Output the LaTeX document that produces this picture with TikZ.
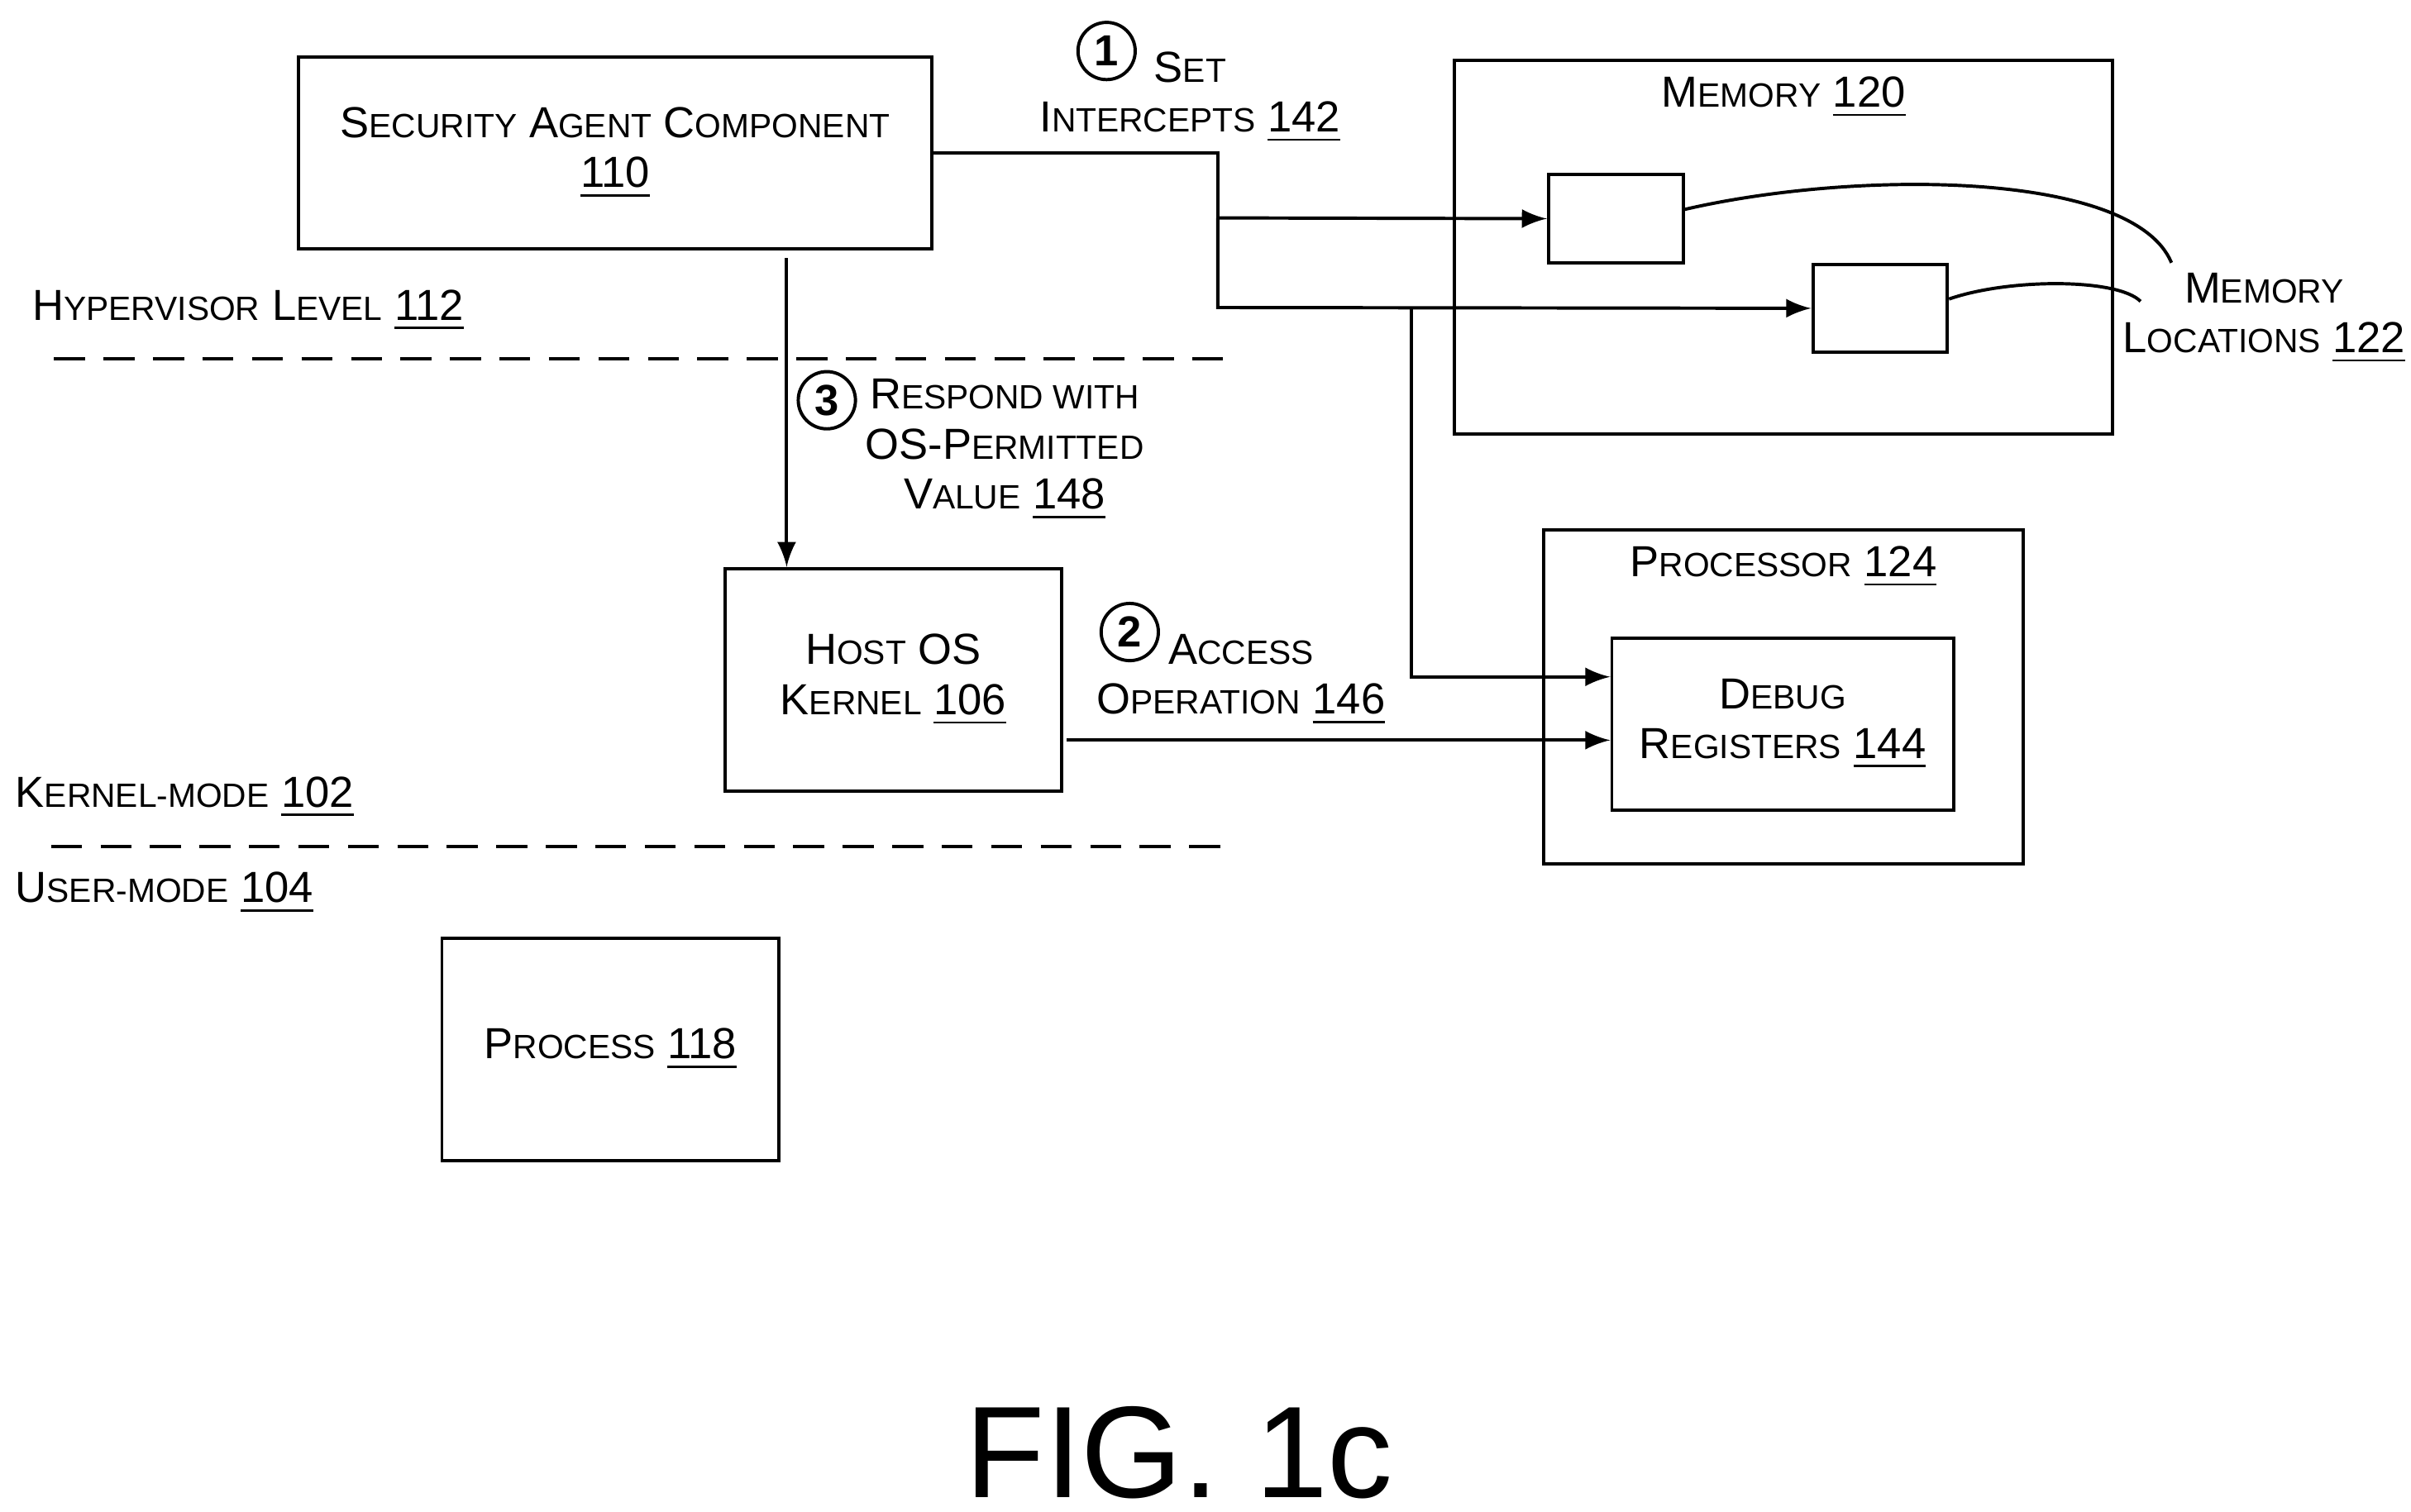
\documentclass[tikz,border=0pt]{standalone}
\usepackage{fontspec}
\setmainfont{Liberation Sans}
\usetikzlibrary{positioning,arrows}
\newcommand\lc[1]{{\fontsize{6.2}{7}\selectfont #1}}
\newcommand\num[1]{\underline{#1}}
\begin{document}
\begin{tikzpicture}[x=0.01cm,y=-0.01cm,line width=0.6pt,
  box/.style={draw,inner sep=0pt},
  txt/.style={font=\fontsize{8}{9.2}\selectfont,align=center},
  stepno/.style={draw,circle,inner sep=0pt,minimum size=0.37cm,font=\fontsize{8}{9}\selectfont\bfseries},
  leveldash/.style={dash pattern=on 0.2cm off 0.12cm}]
\useasboundingbox (0,0) rectangle (1560,978);
% boxes
\draw (193,37) rectangle (603,161);
\node[txt] (sa) at (398,99) {S\lc{ECURITY} A\lc{GENT} C\lc{OMPONENT}\\\num{110}};
\draw (941,39) rectangle (1367,281);
\node[txt] (mem) at (1154,63) {M\lc{EMORY} \num{120}};
\node[box,minimum width=0.87cm,minimum height=0.57cm] (loc1) at (1045.5,141.5) {};
\node[box,minimum width=0.87cm,minimum height=0.57cm] (loc2) at (1216.5,199.5) {};
\node[txt] (locs) at (1465,206) {M\lc{EMORY}\\L\lc{OCATIONS} \num{122}};
\draw (999,343) rectangle (1309,559);
\node[txt] (proc) at (1154,367) {P\lc{ROCESSOR} \num{124}};
\node[box,minimum width=2.21cm,minimum height=1.11cm] (dbg) at (1153.5,468.5) {};
\node[txt] at (dbg) {D\lc{EBUG}\\R\lc{EGISTERS} \num{144}};
\node[box,minimum width=2.18cm,minimum height=1.44cm] (host) at (578,440) {};
\node[txt] at (host) {H\lc{OST} OS\\K\lc{ERNEL} \num{106}};
\node[box,minimum width=2.18cm,minimum height=1.44cm] (process) at (395,679) {};
\node[txt] at (process) {P\lc{ROCESS} \num{118}};
% levels
\draw[leveldash] (35,232) -- (795,232);
\draw[leveldash] (33,548) -- (795,548);
\node[txt,anchor=west,inner sep=0pt] (hyp) at (20,201) {H\lc{YPERVISOR} L\lc{EVEL} \num{112}};
\node[txt,anchor=west,inner sep=0pt] (kern) at (9,516) {K\lc{ERNEL}\lc{-MODE} \num{102}};
\node[txt,anchor=west,inner sep=0pt] (user) at (9,578) {U\lc{SER}\lc{-MODE} \num{104}};
% arrows
\coordinate (j1) at (788,141);
\coordinate (j2) at (913,199);
\draw (603,99) -- (788,99) -- (j1);
\draw[-latex] (j1) -- (loc1.west);
\draw[-latex] (j1) -- (788,199) -- (loc2.west);
\draw[-latex] (j2) -- (913,438) -- (dbg.west |- 0,438);
\draw[-latex] (509,167) -- (host.north -| 509,0);
\draw[-latex] (690,479) -- (dbg.west |- 0,479);
\draw (loc1.east) ++(0,-6) .. controls (1200,110) and (1380,110) .. (1405,170);
\draw (loc2.east) ++(0,-6) .. controls (1300,180) and (1370,180) .. (1385,195);
% steps
\node[stepno] (s1) at (716,33) {1};
\node[txt,align=center] (l1) at (770,63) {S\lc{ET}\\I\lc{NTERCEPTS} \num{142}};
\node[stepno] (s3) at (535,259) {3};
\node[txt,align=center] (l3) at (650,291) {R\lc{ESPOND WITH}\\OS-P\lc{ERMITTED}\\V\lc{ALUE} \num{148}};
\node[stepno] (s2) at (731,409) {2};
\node[txt,align=center] (l2) at (803,440) {A\lc{CCESS}\\O\lc{PERATION} \num{146}};
\node[font=\fontsize{24}{26}\selectfont,inner sep=0pt] (fig) at (763,940) {FIG. 1c};
\end{tikzpicture}
\end{document}
